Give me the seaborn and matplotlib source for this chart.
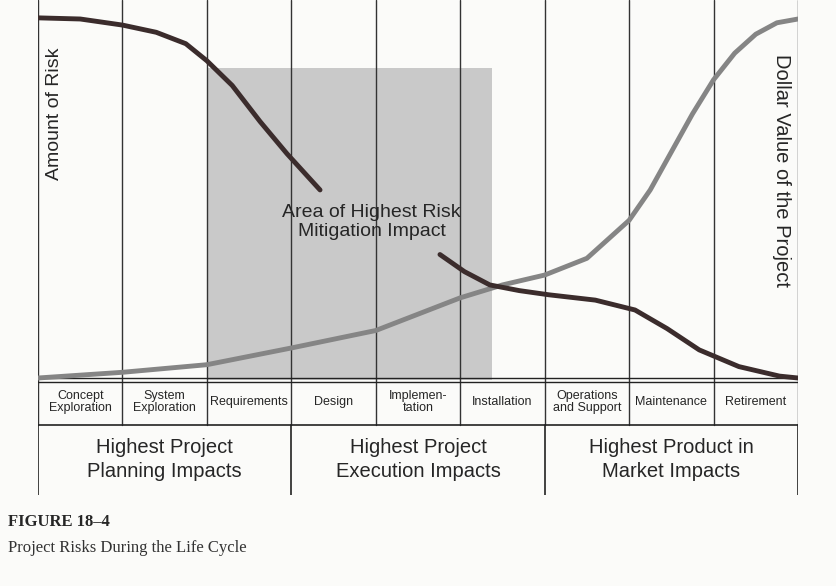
import matplotlib
matplotlib.use("Agg")
import matplotlib.pyplot as plt
import seaborn as sns
import pandas as pd
import numpy as np

sns.set_style("white")
plt.rcParams['font.family'] = ['Liberation Sans', 'DejaVu Sans']

# phases along the life cycle (x = phase boundary index)
phases = ["Concept\nExploration", "System\nExploration", "Requirements", "Design",
          "Implemen-\ntation", "Installation", "Operations\nand Support",
          "Maintenance", "Retirement"]
groups = ["Highest Project\nPlanning Impacts", "Highest Project\nExecution Impacts",
          "Highest Product in\nMarket Impacts"]

# amount of risk curve, split where the label sits
risk_x1 = [0, 0.5, 1.0, 1.4, 1.75, 2.0, 2.3, 2.63, 2.95, 3.34]
risk_y1 = [95.3, 95.0, 93.4, 91.5, 88.5, 84.0, 77.5, 68.0, 59.5, 50.0]
risk_x2 = [4.76, 5.05, 5.35, 5.7, 6.05, 6.6, 7.07, 7.45, 7.83, 8.3, 8.78, 9.0]
risk_y2 = [33.0, 28.5, 25.0, 23.5, 22.4, 21.0, 18.4, 13.5, 7.9, 3.5, 1.0, 0.5]

# dollar value of the project curve
value_x = [0, 1, 2, 3, 4, 5, 5.5, 6, 6.5, 7, 7.25, 7.5, 7.75, 8, 8.25, 8.5, 8.75, 9]
value_y = [0.5, 2.0, 4.0, 8.4, 13.0, 21.6, 25.0, 27.6, 32.0, 42.0, 50.0, 60.0, 70.0,
           79.0, 86.0, 91.0, 94.0, 95.0]

fig = plt.figure(figsize=(8.36, 5.86), dpi=100)
fig.patch.set_facecolor("#fbfbf9")
ax = fig.add_axes([38 / 836, 1 - 495 / 586, 760 / 836, 495 / 586])
ax.set_facecolor("#fbfbf9")
ax.set_xlim(0, 9)
ax.set_ylim(-30.3, 100)
ax.axis("off")

# shaded region of highest mitigation impact
ax.add_patch(plt.Rectangle((2.0, 0), 3.38, 82.1, color="#c9c9c9", zorder=0, lw=0))

# grid lines
for i in range(10):
    ax.plot([i, i], [-11.8, 100], color="#333333", lw=1.0, zorder=1)
for i in [0, 3, 6, 9]:
    ax.plot([i, i], [-30.3, -11.8], color="#222222", lw=1.2)
ax.plot([0, 9], [0.6, 0.6], color="#222222", lw=1.0)
ax.plot([0, 9], [-0.6, -0.6], color="#222222", lw=1.0)
ax.plot([0, 9], [-11.8, -11.8], color="#222222", lw=1.2)

sns.lineplot(x=value_x, y=value_y, ax=ax, color="#858585", lw=3.5, zorder=3)
sns.lineplot(x=risk_x1, y=risk_y1, ax=ax, color="#3b2c2c", lw=3.5, zorder=4)
sns.lineplot(x=risk_x2, y=risk_y2, ax=ax, color="#3b2c2c", lw=3.5, zorder=4)

ax.text(3.95, 41.5, "Area of Highest Risk\nMitigation Impact", ha="center", va="center",
        fontsize=14, linespacing=1.15, zorder=5)

for i, p in enumerate(phases):
    ax.text(i + 0.5, -5.9, p, ha="center", va="center", fontsize=9, linespacing=1.0)
for i, g in enumerate(groups):
    ax.text(i * 3 + 1.5, -21, g, ha="center", va="center", fontsize=14.5, linespacing=1.35)

ax.text(0.2, 70, "Amount of Risk", rotation=90, ha="center", va="center", fontsize=14)
ax.text(8.8, 55, "Dollar Value of the Project", rotation=-90, ha="center", va="center",
        fontsize=14.5)

fig.text(8 / 836, 1 - 522 / 586, "FIGURE 18–4", fontsize=12, fontweight="bold",
         family=["Liberation Serif"], va="center")
fig.text(8 / 836, 1 - 548 / 586, "Project Risks During the Life Cycle", fontsize=12,
         family=["Liberation Serif"], va="center", color="#333333")

fig.savefig("out.png", dpi=100, facecolor=fig.get_facecolor())
